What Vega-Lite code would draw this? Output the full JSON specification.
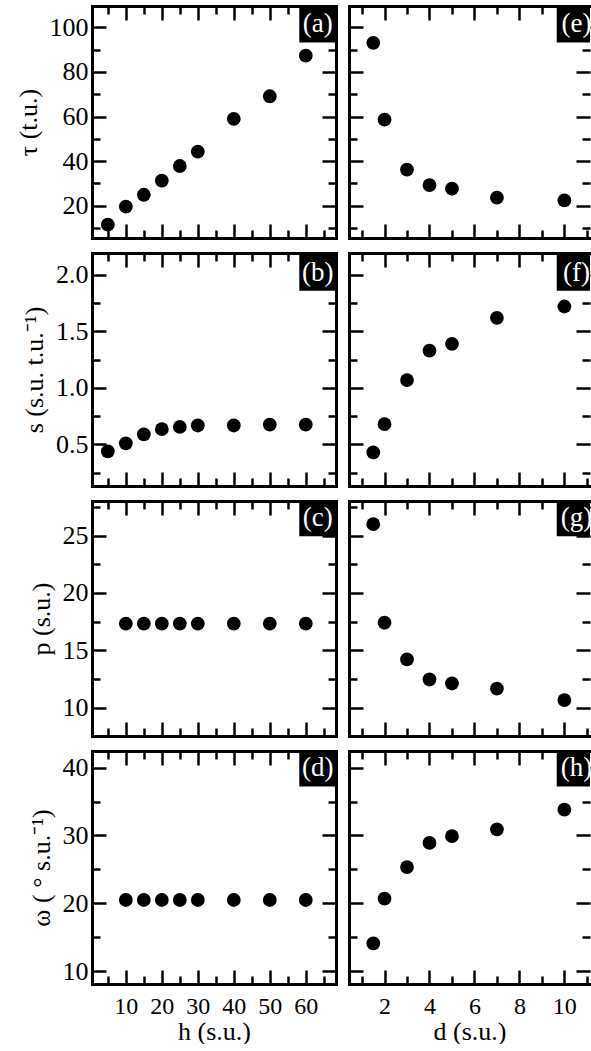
{
 "$schema": "https://vega.github.io/schema/vega-lite/v6.json",
 "padding": {"left": 15, "top": 4, "right": 0, "bottom": 0},
 "background": "white",
 "config": {
  "font": "Liberation Serif",
  "view": {"stroke": null},
  "text": {"font": "Liberation Serif"},
  "axis": {"domainColor": "black", "domainWidth": 3, "domainCap": "square", "tickColor": "black", "tickWidth": 2.5, "grid": false, "labelFont": "Liberation Serif", "labelFontSize": 26, "labelColor": "black", "labelFlush": false, "titleFont": "Liberation Serif", "titleFontSize": 26, "titleFontWeight": "normal", "titleColor": "black"}
 },
 "columns": 2,
 "align": "each",
 "spacing": {"row": 11, "column": 9},
 "concat": [
  {
   "width": 244, "height": 232,
   "data": {"values": [{"h":5,"tau":11.5},{"h":10,"tau":19.6},{"h":15,"tau":24.9},{"h":20,"tau":31.2},{"h":25,"tau":37.8},{"h":30,"tau":44.3},{"h":40,"tau":59.0},{"h":50,"tau":69.1},{"h":60,"tau":87.3}]},
   "layer": [
    {"data": {"values": [{}]}, "mark": {"type": "rect", "color": "black"},
     "encoding": {"x": {"datum": 58.2, "type": "quantitative", "scale": {"domain": [0.6, 68.4], "nice": false, "zero": false}, "axis": null}, "x2": {"datum": 68.4},
      "y": {"datum": 109.6, "type": "quantitative", "scale": {"domain": [5.5, 109.6], "nice": false, "zero": false}, "axis": null}, "y2": {"datum": 93.2}}},
    {"data": {"values": [{}]}, "mark": {"type": "text", "color": "white", "fontSize": 27, "align": "center", "baseline": "middle"},
     "encoding": {"x": {"datum": 63.3, "type": "quantitative", "axis": null}, "y": {"datum": 101.6, "type": "quantitative", "axis": null}, "text": {"value": "(a)"}}},
    {"mark": {"type": "point", "filled": true, "color": "black", "size": 190, "opacity": 1},
     "encoding": {
      "x": {"field": "h", "type": "quantitative", "scale": {"domain": [0.6, 68.4], "nice": false, "zero": false}, "axis": {"orient": "bottom", "values": [5,10,15,20,25,30,35,40,45,50,55,60,65], "labels": false, "title": null, "tickSize": {"condition": {"test": "datum.value % 10 === 0", "value": -14}, "value": -8}}},
      "y": {"field": "tau", "type": "quantitative", "scale": {"domain": [5.5, 109.6], "nice": false, "zero": false}, "axis": {"orient": "left", "values": [10,20,30,40,50,60,70,80,90,100], "labelExpr": "datum.value % 20 === 0 ? datum.label : ''", "labelPadding": 18, "title": "τ (t.u.)", "titlePadding": 8, "tickSize": {"condition": {"test": "datum.value % 20 === 0", "value": -14}, "value": -8}}}}},
    {"mark": {"type": "point", "opacity": 0},
     "encoding": {
      "x": {"field": "h", "type": "quantitative", "axis": {"orient": "top", "values": [5,10,15,20,25,30,35,40,45,50,55,60,65], "labels": false, "title": null, "tickSize": {"condition": {"test": "datum.value % 10 === 0", "value": -14}, "value": -8}}},
      "y": {"field": "tau", "type": "quantitative", "axis": {"orient": "right", "values": [10,20,30,40,50,60,70,80,90,100], "labels": false, "title": null, "tickSize": {"condition": {"test": "datum.value % 20 === 0", "value": -14}, "value": -8}}}}}
   ],
   "resolve": {"axis": {"x": "independent", "y": "independent"}}
  },
  {
   "width": 241, "height": 232,
   "data": {"values": [{"d":1.5,"tau":93.1},{"d":2,"tau":58.6},{"d":3,"tau":36.2},{"d":4,"tau":29.2},{"d":5,"tau":27.6},{"d":7,"tau":23.6},{"d":10,"tau":22.4}]},
   "layer": [
    {"data": {"values": [{}]}, "mark": {"type": "rect", "color": "black", "clip": true},
     "encoding": {"x": {"datum": 9.66, "type": "quantitative", "scale": {"domain": [0.42, 11.14], "nice": false, "zero": false}, "axis": null}, "x2": {"datum": 11.14},
      "y": {"datum": 109.6, "type": "quantitative", "scale": {"domain": [5.5, 109.6], "nice": false, "zero": false}, "axis": null}, "y2": {"datum": 93.2}}},
    {"data": {"values": [{}]}, "mark": {"type": "text", "color": "white", "fontSize": 27, "align": "center", "baseline": "middle", "clip": true},
     "encoding": {"x": {"datum": 10.54, "type": "quantitative", "axis": null}, "y": {"datum": 101.6, "type": "quantitative", "axis": null}, "text": {"value": "(e)"}}},
    {"mark": {"type": "point", "filled": true, "color": "black", "size": 190, "opacity": 1},
     "encoding": {
      "x": {"field": "d", "type": "quantitative", "scale": {"domain": [0.42, 11.14], "nice": false, "zero": false}, "axis": {"orient": "bottom", "values": [1,2,3,4,5,6,7,8,9,10,11], "labels": false, "title": null, "tickSize": {"condition": {"test": "datum.value % 2 === 0", "value": -14}, "value": -8}}},
      "y": {"field": "tau", "type": "quantitative", "scale": {"domain": [5.5, 109.6], "nice": false, "zero": false}, "axis": {"orient": "left", "values": [10,20,30,40,50,60,70,80,90,100], "labels": false, "title": null, "tickSize": {"condition": {"test": "datum.value % 20 === 0", "value": -14}, "value": -8}}}}},
    {"mark": {"type": "point", "opacity": 0},
     "encoding": {
      "x": {"field": "d", "type": "quantitative", "axis": {"orient": "top", "values": [1,2,3,4,5,6,7,8,9,10,11], "labels": false, "title": null, "tickSize": {"condition": {"test": "datum.value % 2 === 0", "value": -14}, "value": -8}}},
      "y": {"field": "tau", "type": "quantitative", "axis": {"orient": "right", "domain": false, "values": [10,20,30,40,50,60,70,80,90,100], "labels": false, "title": null, "tickSize": {"condition": {"test": "datum.value % 20 === 0", "value": -14}, "value": -8}}}}}
   ],
   "resolve": {"axis": {"x": "independent", "y": "independent"}}
  },
  {
   "width": 244, "height": 233,
   "data": {"values": [{"h":5,"s":0.44},{"h":10,"s":0.51},{"h":15,"s":0.59},{"h":20,"s":0.635},{"h":25,"s":0.655},{"h":30,"s":0.668},{"h":40,"s":0.668},{"h":50,"s":0.676},{"h":60,"s":0.676}]},
   "layer": [
    {"data": {"values": [{}]}, "mark": {"type": "rect", "color": "black"},
     "encoding": {"x": {"datum": 58.2, "type": "quantitative", "scale": {"domain": [0.6, 68.4], "nice": false, "zero": false}, "axis": null}, "x2": {"datum": 68.4},
      "y": {"datum": 2.193, "type": "quantitative", "scale": {"domain": [0.133, 2.193], "nice": false, "zero": false}, "axis": null}, "y2": {"datum": 1.86}}},
    {"data": {"values": [{}]}, "mark": {"type": "text", "color": "white", "fontSize": 27, "align": "center", "baseline": "middle"},
     "encoding": {"x": {"datum": 63.3, "type": "quantitative", "axis": null}, "y": {"datum": 2.014, "type": "quantitative", "axis": null}, "text": {"value": "(b)"}}},
    {"mark": {"type": "point", "filled": true, "color": "black", "size": 190, "opacity": 1},
     "encoding": {
      "x": {"field": "h", "type": "quantitative", "scale": {"domain": [0.6, 68.4], "nice": false, "zero": false}, "axis": {"orient": "bottom", "values": [5,10,15,20,25,30,35,40,45,50,55,60,65], "labels": false, "title": null, "tickSize": {"condition": {"test": "datum.value % 10 === 0", "value": -14}, "value": -8}}},
      "y": {"field": "s", "type": "quantitative", "scale": {"domain": [0.133, 2.193], "nice": false, "zero": false}, "axis": {"orient": "left", "values": [0.25,0.5,0.75,1,1.25,1.5,1.75,2], "format": ".1f", "labelExpr": "abs(datum.value*2 - round(datum.value*2)) < 0.01 ? datum.label : ''", "labelPadding": 18, "title": "s (s.u. t.u.⁻¹)", "titlePadding": 8, "tickSize": {"condition": {"test": "abs(datum.value*2 - round(datum.value*2)) < 0.01", "value": -14}, "value": -8}}}}},
    {"mark": {"type": "point", "opacity": 0},
     "encoding": {
      "x": {"field": "h", "type": "quantitative", "axis": {"orient": "top", "values": [5,10,15,20,25,30,35,40,45,50,55,60,65], "labels": false, "title": null, "tickSize": {"condition": {"test": "datum.value % 10 === 0", "value": -14}, "value": -8}}},
      "y": {"field": "s", "type": "quantitative", "axis": {"orient": "right", "values": [0.25,0.5,0.75,1,1.25,1.5,1.75,2], "labels": false, "title": null, "tickSize": {"condition": {"test": "abs(datum.value*2 - round(datum.value*2)) < 0.01", "value": -14}, "value": -8}}}}}
   ],
   "resolve": {"axis": {"x": "independent", "y": "independent"}}
  },
  {
   "width": 241, "height": 233,
   "data": {"values": [{"d":1.5,"s":0.43},{"d":2,"s":0.68},{"d":3,"s":1.07},{"d":4,"s":1.33},{"d":5,"s":1.39},{"d":7,"s":1.62},{"d":10,"s":1.72}]},
   "layer": [
    {"data": {"values": [{}]}, "mark": {"type": "rect", "color": "black", "clip": true},
     "encoding": {"x": {"datum": 9.66, "type": "quantitative", "scale": {"domain": [0.42, 11.14], "nice": false, "zero": false}, "axis": null}, "x2": {"datum": 11.14},
      "y": {"datum": 2.193, "type": "quantitative", "scale": {"domain": [0.133, 2.193], "nice": false, "zero": false}, "axis": null}, "y2": {"datum": 1.86}}},
    {"data": {"values": [{}]}, "mark": {"type": "text", "color": "white", "fontSize": 27, "align": "center", "baseline": "middle", "clip": true},
     "encoding": {"x": {"datum": 10.54, "type": "quantitative", "axis": null}, "y": {"datum": 2.014, "type": "quantitative", "axis": null}, "text": {"value": "(f)"}}},
    {"mark": {"type": "point", "filled": true, "color": "black", "size": 190, "opacity": 1},
     "encoding": {
      "x": {"field": "d", "type": "quantitative", "scale": {"domain": [0.42, 11.14], "nice": false, "zero": false}, "axis": {"orient": "bottom", "values": [1,2,3,4,5,6,7,8,9,10,11], "labels": false, "title": null, "tickSize": {"condition": {"test": "datum.value % 2 === 0", "value": -14}, "value": -8}}},
      "y": {"field": "s", "type": "quantitative", "scale": {"domain": [0.133, 2.193], "nice": false, "zero": false}, "axis": {"orient": "left", "values": [0.25,0.5,0.75,1,1.25,1.5,1.75,2], "labels": false, "title": null, "tickSize": {"condition": {"test": "abs(datum.value*2 - round(datum.value*2)) < 0.01", "value": -14}, "value": -8}}}}},
    {"mark": {"type": "point", "opacity": 0},
     "encoding": {
      "x": {"field": "d", "type": "quantitative", "axis": {"orient": "top", "values": [1,2,3,4,5,6,7,8,9,10,11], "labels": false, "title": null, "tickSize": {"condition": {"test": "datum.value % 2 === 0", "value": -14}, "value": -8}}},
      "y": {"field": "s", "type": "quantitative", "axis": {"orient": "right", "domain": false, "values": [0.25,0.5,0.75,1,1.25,1.5,1.75,2], "labels": false, "title": null, "tickSize": {"condition": {"test": "abs(datum.value*2 - round(datum.value*2)) < 0.01", "value": -14}, "value": -8}}}}}
   ],
   "resolve": {"axis": {"x": "independent", "y": "independent"}}
  },
  {
   "width": 244, "height": 235,
   "data": {"values": [{"h":10,"p":17.33},{"h":15,"p":17.33},{"h":20,"p":17.33},{"h":25,"p":17.33},{"h":30,"p":17.33},{"h":40,"p":17.33},{"h":50,"p":17.33},{"h":60,"p":17.33}]},
   "layer": [
    {"data": {"values": [{}]}, "mark": {"type": "rect", "color": "black"},
     "encoding": {"x": {"datum": 58.2, "type": "quantitative", "scale": {"domain": [0.6, 68.4], "nice": false, "zero": false}, "axis": null}, "x2": {"datum": 68.4},
      "y": {"datum": 28.02, "type": "quantitative", "scale": {"domain": [7.52, 28.02], "nice": false, "zero": false}, "axis": null}, "y2": {"datum": 24.95}}},
    {"data": {"values": [{}]}, "mark": {"type": "text", "color": "white", "fontSize": 27, "align": "center", "baseline": "middle"},
     "encoding": {"x": {"datum": 63.3, "type": "quantitative", "axis": null}, "y": {"datum": 26.5, "type": "quantitative", "axis": null}, "text": {"value": "(c)"}}},
    {"mark": {"type": "point", "filled": true, "color": "black", "size": 190, "opacity": 1},
     "encoding": {
      "x": {"field": "h", "type": "quantitative", "scale": {"domain": [0.6, 68.4], "nice": false, "zero": false}, "axis": {"orient": "bottom", "values": [5,10,15,20,25,30,35,40,45,50,55,60,65], "labels": false, "title": null, "tickSize": {"condition": {"test": "datum.value % 10 === 0", "value": -14}, "value": -8}}},
      "y": {"field": "p", "type": "quantitative", "scale": {"domain": [7.52, 28.02], "nice": false, "zero": false}, "axis": {"orient": "left", "values": [10,12.5,15,17.5,20,22.5,25,27.5], "labelExpr": "datum.value % 5 === 0 ? datum.label : ''", "labelPadding": 18, "title": "p (s.u.)", "titlePadding": 8, "tickSize": {"condition": {"test": "datum.value % 5 === 0", "value": -14}, "value": -8}}}}},
    {"mark": {"type": "point", "opacity": 0},
     "encoding": {
      "x": {"field": "h", "type": "quantitative", "axis": {"orient": "top", "values": [5,10,15,20,25,30,35,40,45,50,55,60,65], "labels": false, "title": null, "tickSize": {"condition": {"test": "datum.value % 10 === 0", "value": -14}, "value": -8}}},
      "y": {"field": "p", "type": "quantitative", "axis": {"orient": "right", "values": [10,12.5,15,17.5,20,22.5,25,27.5], "labels": false, "title": null, "tickSize": {"condition": {"test": "datum.value % 5 === 0", "value": -14}, "value": -8}}}}}
   ],
   "resolve": {"axis": {"x": "independent", "y": "independent"}}
  },
  {
   "width": 241, "height": 235,
   "data": {"values": [{"d":1.5,"p":26.0},{"d":2,"p":17.4},{"d":3,"p":14.2},{"d":4,"p":12.45},{"d":5,"p":12.1},{"d":7,"p":11.65},{"d":10,"p":10.65}]},
   "layer": [
    {"data": {"values": [{}]}, "mark": {"type": "rect", "color": "black", "clip": true},
     "encoding": {"x": {"datum": 9.66, "type": "quantitative", "scale": {"domain": [0.42, 11.14], "nice": false, "zero": false}, "axis": null}, "x2": {"datum": 11.14},
      "y": {"datum": 28.02, "type": "quantitative", "scale": {"domain": [7.52, 28.02], "nice": false, "zero": false}, "axis": null}, "y2": {"datum": 24.95}}},
    {"data": {"values": [{}]}, "mark": {"type": "text", "color": "white", "fontSize": 27, "align": "center", "baseline": "middle", "clip": true},
     "encoding": {"x": {"datum": 10.54, "type": "quantitative", "axis": null}, "y": {"datum": 26.5, "type": "quantitative", "axis": null}, "text": {"value": "(g)"}}},
    {"mark": {"type": "point", "filled": true, "color": "black", "size": 190, "opacity": 1},
     "encoding": {
      "x": {"field": "d", "type": "quantitative", "scale": {"domain": [0.42, 11.14], "nice": false, "zero": false}, "axis": {"orient": "bottom", "values": [1,2,3,4,5,6,7,8,9,10,11], "labels": false, "title": null, "tickSize": {"condition": {"test": "datum.value % 2 === 0", "value": -14}, "value": -8}}},
      "y": {"field": "p", "type": "quantitative", "scale": {"domain": [7.52, 28.02], "nice": false, "zero": false}, "axis": {"orient": "left", "values": [10,12.5,15,17.5,20,22.5,25,27.5], "labels": false, "title": null, "tickSize": {"condition": {"test": "datum.value % 5 === 0", "value": -14}, "value": -8}}}}},
    {"mark": {"type": "point", "opacity": 0},
     "encoding": {
      "x": {"field": "d", "type": "quantitative", "axis": {"orient": "top", "values": [1,2,3,4,5,6,7,8,9,10,11], "labels": false, "title": null, "tickSize": {"condition": {"test": "datum.value % 2 === 0", "value": -14}, "value": -8}}},
      "y": {"field": "p", "type": "quantitative", "axis": {"orient": "right", "domain": false, "values": [10,12.5,15,17.5,20,22.5,25,27.5], "labels": false, "title": null, "tickSize": {"condition": {"test": "datum.value % 5 === 0", "value": -14}, "value": -8}}}}}
   ],
   "resolve": {"axis": {"x": "independent", "y": "independent"}}
  },
  {
   "width": 244, "height": 233,
   "data": {"values": [{"h":10,"omega":20.5},{"h":15,"omega":20.5},{"h":20,"omega":20.5},{"h":25,"omega":20.5},{"h":30,"omega":20.5},{"h":40,"omega":20.5},{"h":50,"omega":20.5},{"h":60,"omega":20.5}]},
   "layer": [
    {"data": {"values": [{}]}, "mark": {"type": "rect", "color": "black"},
     "encoding": {"x": {"datum": 58.2, "type": "quantitative", "scale": {"domain": [0.6, 68.4], "nice": false, "zero": false}, "axis": null}, "x2": {"datum": 68.4},
      "y": {"datum": 42.44, "type": "quantitative", "scale": {"domain": [8.13, 42.44], "nice": false, "zero": false}, "axis": null}, "y2": {"datum": 37.2}}},
    {"data": {"values": [{}]}, "mark": {"type": "text", "color": "white", "fontSize": 27, "align": "center", "baseline": "middle"},
     "encoding": {"x": {"datum": 63.3, "type": "quantitative", "axis": null}, "y": {"datum": 39.9, "type": "quantitative", "axis": null}, "text": {"value": "(d)"}}},
    {"mark": {"type": "point", "filled": true, "color": "black", "size": 190, "opacity": 1},
     "encoding": {
      "x": {"field": "h", "type": "quantitative", "scale": {"domain": [0.6, 68.4], "nice": false, "zero": false}, "axis": {"orient": "bottom", "values": [5,10,15,20,25,30,35,40,45,50,55,60,65], "format": "d", "labelExpr": "datum.value % 10 === 0 ? datum.label : ''", "labelPadding": 24, "labelFontSize": 24, "title": "h (s.u.)", "titlePadding": 0, "tickSize": {"condition": {"test": "datum.value % 10 === 0", "value": -14}, "value": -8}}},
      "y": {"field": "omega", "type": "quantitative", "scale": {"domain": [8.13, 42.44], "nice": false, "zero": false}, "axis": {"orient": "left", "values": [10,15,20,25,30,35,40], "labelExpr": "datum.value % 10 === 0 ? datum.label : ''", "labelPadding": 18, "title": "ω ( ° s.u.⁻¹)", "titlePadding": 8, "tickSize": {"condition": {"test": "datum.value % 10 === 0", "value": -14}, "value": -8}}}}},
    {"mark": {"type": "point", "opacity": 0},
     "encoding": {
      "x": {"field": "h", "type": "quantitative", "axis": {"orient": "top", "values": [5,10,15,20,25,30,35,40,45,50,55,60,65], "labels": false, "title": null, "tickSize": {"condition": {"test": "datum.value % 10 === 0", "value": -14}, "value": -8}}},
      "y": {"field": "omega", "type": "quantitative", "axis": {"orient": "right", "values": [10,15,20,25,30,35,40], "labels": false, "title": null, "tickSize": {"condition": {"test": "datum.value % 10 === 0", "value": -14}, "value": -8}}}}}
   ],
   "resolve": {"axis": {"x": "independent", "y": "independent"}}
  },
  {
   "width": 241, "height": 233,
   "data": {"values": [{"d":1.5,"omega":14.1},{"d":2,"omega":20.7},{"d":3,"omega":25.35},{"d":4,"omega":28.9},{"d":5,"omega":29.9},{"d":7,"omega":30.9},{"d":10,"omega":33.8}]},
   "layer": [
    {"data": {"values": [{}]}, "mark": {"type": "rect", "color": "black", "clip": true},
     "encoding": {"x": {"datum": 9.66, "type": "quantitative", "scale": {"domain": [0.42, 11.14], "nice": false, "zero": false}, "axis": null}, "x2": {"datum": 11.14},
      "y": {"datum": 42.44, "type": "quantitative", "scale": {"domain": [8.13, 42.44], "nice": false, "zero": false}, "axis": null}, "y2": {"datum": 37.2}}},
    {"data": {"values": [{}]}, "mark": {"type": "text", "color": "white", "fontSize": 27, "align": "center", "baseline": "middle", "clip": true},
     "encoding": {"x": {"datum": 10.54, "type": "quantitative", "axis": null}, "y": {"datum": 39.9, "type": "quantitative", "axis": null}, "text": {"value": "(h)"}}},
    {"mark": {"type": "point", "filled": true, "color": "black", "size": 190, "opacity": 1},
     "encoding": {
      "x": {"field": "d", "type": "quantitative", "scale": {"domain": [0.42, 11.14], "nice": false, "zero": false}, "axis": {"orient": "bottom", "values": [1,2,3,4,5,6,7,8,9,10,11], "format": "d", "labelExpr": "datum.value % 2 === 0 ? datum.label : ''", "labelPadding": 24, "labelFontSize": 24, "title": "d (s.u.)", "titlePadding": 0, "tickSize": {"condition": {"test": "datum.value % 2 === 0", "value": -14}, "value": -8}}},
      "y": {"field": "omega", "type": "quantitative", "scale": {"domain": [8.13, 42.44], "nice": false, "zero": false}, "axis": {"orient": "left", "values": [10,15,20,25,30,35,40], "labels": false, "title": null, "tickSize": {"condition": {"test": "datum.value % 10 === 0", "value": -14}, "value": -8}}}}},
    {"mark": {"type": "point", "opacity": 0},
     "encoding": {
      "x": {"field": "d", "type": "quantitative", "axis": {"orient": "top", "values": [1,2,3,4,5,6,7,8,9,10,11], "labels": false, "title": null, "tickSize": {"condition": {"test": "datum.value % 2 === 0", "value": -14}, "value": -8}}},
      "y": {"field": "omega", "type": "quantitative", "axis": {"orient": "right", "domain": false, "values": [10,15,20,25,30,35,40], "labels": false, "title": null, "tickSize": {"condition": {"test": "datum.value % 10 === 0", "value": -14}, "value": -8}}}}}
   ],
   "resolve": {"axis": {"x": "independent", "y": "independent"}}
  }
 ]
}
